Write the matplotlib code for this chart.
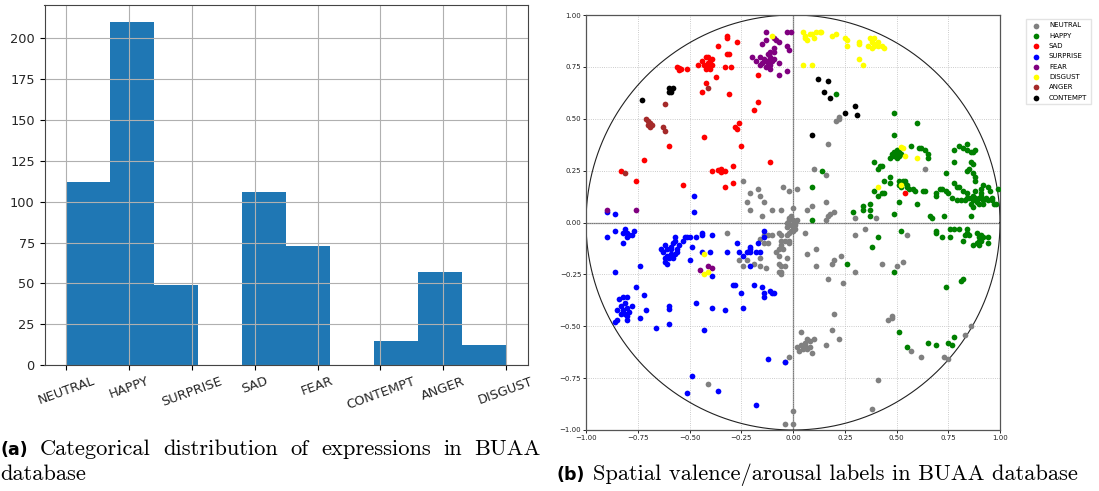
import numpy as np
import matplotlib
matplotlib.use('Agg')
from matplotlib import pyplot as plt

# (a) categorical distribution
categories = ['NEUTRAL', 'HAPPY', 'SURPRISE', 'SAD', 'FEAR', 'CONTEMPT', 'ANGER', 'DISGUST']
counts = [112, 210, 49, 106, 73, 15, 57, 12]

# (b) valence / arousal points, (valence, arousal)
neutral = [(0.21,0.49),(0.22,0.50),(0.22,0.51),(0.17,0.38),(0.10,0.26),(0.16,0.23),(0.64,0.26),
           (-0.24,0.20),(-0.17,0.16),(-0.16,0.13),(-0.21,0.14),(-0.22,0.10),(-0.21,0.06),(-0.14,0.10),
           (-0.15,0.03),(-0.10,0.06),(-0.06,0.06),(-0.05,0.17),(-0.02,0.15),(0.00,0.07),(0.02,0.16),
           (0.07,0.06),(0.09,0.08),(0.16,0.10),(0.16,0.01),(0.17,0.03),(0.18,0.04),(0.20,0.05),
           (0.30,0.02),(0.40,0.02),
           (-0.03,0.00),(-0.02,0.02),(-0.01,0.03),(0.00,0.01),(0.01,0.00),(0.01,-0.01),(-0.01,-0.01),
           (0.00,-0.02),(0.01,-0.03),(0.00,-0.04),(-0.01,-0.04),(-0.02,-0.05),(-0.03,-0.02),(0.02,0.01),
           (-0.02,0.01),
           (-0.32,-0.05),(-0.14,-0.06),(-0.12,-0.06),(-0.10,-0.06),(-0.07,-0.05),(-0.06,-0.06),(-0.03,-0.06),
           (-0.14,-0.10),(-0.12,-0.10),(-0.16,-0.08),(-0.06,-0.11),(-0.07,-0.13),(-0.08,-0.14),(-0.06,-0.09),
           (-0.04,-0.09),(-0.02,-0.09),(-0.02,-0.10),(-0.05,-0.13),(-0.07,-0.16),(-0.03,-0.17),
           (-0.07,-0.20),(-0.06,-0.21),(-0.06,-0.24),(-0.04,-0.21),(-0.07,-0.24),(-0.06,-0.25),
           (-0.26,-0.18),(-0.22,-0.18),(-0.24,-0.21),(-0.19,-0.20),(-0.16,-0.21),(-0.16,-0.17),(-0.13,-0.22),
           (0.06,-0.05),(0.07,-0.15),(0.11,-0.13),(0.11,-0.21),(0.19,-0.20),(0.20,-0.18),(0.23,-0.16),
           (0.17,-0.27),(0.24,-0.29),(0.30,-0.24),(0.30,-0.06),(0.35,-0.03),(0.43,-0.20),(0.50,-0.21),
           (0.53,-0.19),(0.55,-0.06),(0.20,-0.44),(0.46,-0.47),(0.48,-0.45),(0.48,-0.46),(0.04,-0.53),
           (0.02,-0.60),(0.04,-0.59),(0.05,-0.61),(0.05,-0.60),(0.06,-0.59),(0.07,-0.61),(0.08,-0.60),
           (0.08,-0.57),(0.10,-0.56),(0.09,-0.63),(0.03,-0.62),(0.06,-0.58),(0.07,-0.56),
           (0.16,-0.59),(0.19,-0.52),(0.22,-0.56),(0.57,-0.62),(0.62,-0.65),(0.73,-0.65),(0.75,-0.66),
           (0.83,-0.54),(0.86,-0.50),(0.41,-0.76),(0.38,-0.90),(-0.41,-0.78),(-0.02,-0.65),(-0.04,-0.67),
           (0.00,-0.91),(-0.04,-0.97),(0.00,-0.97)]
happy = [(0.21,0.62),(0.49,0.53),(0.60,0.48),(0.49,0.42),(0.39,0.29),(0.42,0.27),(0.41,0.26),(0.43,0.27),
         (0.14,0.25),(0.09,0.17),(0.09,0.01),
         (0.47,0.31),(0.49,0.34),(0.50,0.33),(0.51,0.32),(0.51,0.34),(0.49,0.32),(0.50,0.31),(0.52,0.33),
         (0.48,0.33),(0.50,0.35),(0.57,0.37),(0.61,0.36),(0.62,0.36),(0.64,0.35),(0.65,0.33),(0.65,0.31),
         (0.47,0.22),(0.44,0.20),(0.39,0.15),(0.41,0.13),(0.43,0.14),(0.44,0.14),
         (0.51,0.18),(0.51,0.20),(0.53,0.20),(0.54,0.19),(0.55,0.18),(0.54,0.20),(0.55,0.17),(0.56,0.16),
         (0.58,0.16),(0.59,0.15),(0.52,0.17),(0.47,0.19),
         (0.51,0.10),(0.49,0.04),(0.60,0.09),(0.63,0.15),(0.64,0.15),(0.66,0.03),(0.67,0.02),(0.69,0.14),
         (0.69,0.13),(0.73,0.03),(0.71,0.16),(0.72,0.16),(0.74,0.15),(0.75,0.14),(0.74,0.24),(0.78,0.29),
         (0.78,0.35),(0.80,0.37),(0.82,0.36),(0.84,0.38),(0.84,0.35),(0.86,0.34),(0.87,0.34),(0.88,0.35),
         (0.86,0.29),(0.87,0.28),(0.85,0.26),(0.84,0.25),(0.78,0.19),(0.79,0.17),(0.80,0.17),
         (0.82,0.15),(0.84,0.14),(0.87,0.13),(0.88,0.12),(0.90,0.12),(0.92,0.11),(0.93,0.12),(0.91,0.16),
         (0.92,0.18),(0.94,0.17),(0.95,0.15),(0.96,0.12),(0.96,0.11),(0.97,0.09),(0.91,0.13),(0.89,0.10),
         (0.87,0.11),(0.85,0.12),(0.84,0.12),(0.92,0.09),(0.94,0.11),(0.90,0.09),(0.91,0.14),(0.88,0.15),
         (0.87,0.24),(0.88,0.22),(0.88,0.20),(0.98,0.09),(0.99,0.16),(0.86,0.03),(0.77,0.12),(0.79,0.11),
         (0.81,0.11),(0.83,0.11),(0.87,0.075),(0.86,0.09),(0.29,0.05),(0.34,0.08),(0.34,0.06),(0.37,0.09),
         (0.37,0.06),(0.37,0.03),
         (0.52,-0.04),(0.41,-0.07),(0.38,-0.12),(0.26,-0.20),(0.49,-0.24),(0.69,-0.04),(0.69,-0.05),
         (0.72,-0.07),(0.76,-0.03),(0.78,-0.03),(0.80,-0.03),(0.76,-0.07),(0.82,-0.09),(0.84,-0.03),
         (0.84,-0.05),(0.85,-0.06),(0.83,-0.06),(0.87,-0.11),
         (0.89,-0.05),(0.90,-0.07),(0.91,-0.06),(0.92,-0.07),(0.94,-0.07),(0.90,-0.09),(0.89,-0.10),
         (0.91,-0.09),(0.90,-0.11),(0.94,-0.10),
         (0.74,-0.31),(0.81,-0.28),(0.82,-0.27),(0.51,-0.53),(0.55,-0.60),(0.65,-0.58),(0.69,-0.59),
         (0.75,-0.58),(0.77,-0.59),(0.78,-0.55)]
sad = [(-0.32,0.90),(-0.32,0.89),(-0.27,0.87),(-0.36,0.85),
       (-0.44,0.78),(-0.42,0.80),(-0.41,0.80),(-0.40,0.78),(-0.41,0.76),(-0.39,0.76),(-0.43,0.76),
       (-0.40,0.74),(-0.42,0.74),(-0.39,0.79),(-0.41,0.77),
       (-0.32,0.81),(-0.31,0.81),(-0.33,0.75),(-0.30,0.75),(-0.56,0.75),(-0.55,0.735),(-0.55,0.745),
       (-0.54,0.74),(-0.51,0.74),(-0.46,0.76),(-0.42,0.67),(-0.44,0.63),(-0.37,0.70),(-0.31,0.62),
       (-0.17,0.71),(-0.17,0.58),(-0.19,0.54),(-0.26,0.48),(-0.28,0.46),(-0.27,0.45),(-0.25,0.37),
       (-0.43,0.41),(-0.60,0.37),(-0.72,0.30),(-0.83,0.25),(-0.76,0.20),(-0.53,0.18),(-0.39,0.25),
       (-0.36,0.255),(-0.35,0.26),(-0.33,0.25),(-0.35,0.245),(-0.29,0.27),(-0.29,0.19),(-0.33,0.17),
       (-0.11,0.29),(0.54,0.14)]
surprise = [(-0.90,0.05),(-0.86,0.04),(-0.48,0.13),(-0.48,0.05),(-0.14,-0.04),
            (-0.90,-0.07),(-0.86,-0.04),(-0.82,-0.10),(-0.82,-0.05),(-0.81,-0.03),(-0.80,-0.05),
            (-0.79,-0.06),(-0.80,-0.07),(-0.78,-0.06),(-0.77,-0.04),(-0.86,-0.24),(-0.74,-0.21),
            (-0.76,-0.31),(-0.72,-0.35),(-0.71,-0.42),(-0.74,-0.46),
            (-0.84,-0.37),(-0.83,-0.40),(-0.82,-0.42),(-0.81,-0.44),(-0.80,-0.41),(-0.79,-0.43),
            (-0.81,-0.39),(-0.82,-0.36),(-0.80,-0.36),(-0.78,-0.40),(-0.85,-0.42),(-0.83,-0.44),
            (-0.80,-0.45),(-0.85,-0.47),(-0.80,-0.47),(-0.86,-0.48),
            (-0.66,-0.51),(-0.60,-0.40),(-0.60,-0.415),(-0.60,-0.49),
            (-0.64,-0.13),(-0.63,-0.14),(-0.62,-0.17),(-0.62,-0.19),(-0.61,-0.20),(-0.61,-0.16),
            (-0.60,-0.17),(-0.59,-0.15),(-0.59,-0.13),(-0.58,-0.17),(-0.57,-0.15),(-0.56,-0.14),
            (-0.58,-0.10),(-0.57,-0.09),(-0.57,-0.07),(-0.56,-0.13),(-0.55,-0.11),(-0.53,-0.09),
            (-0.52,-0.07),(-0.61,-0.13),(-0.62,-0.11),(-0.59,-0.12),
            (-0.50,-0.18),(-0.49,-0.12),(-0.51,-0.07),(-0.50,-0.07),(-0.47,-0.07),(-0.44,-0.05),
            (-0.44,-0.06),(-0.44,-0.14),(-0.40,-0.14),(-0.39,-0.06),
            (-0.43,-0.52),(-0.47,-0.39),(-0.39,-0.41),(-0.39,-0.26),(-0.33,-0.42),(-0.32,-0.14),
            (-0.29,-0.30),(-0.28,-0.30),(-0.27,-0.10),(-0.26,-0.14),(-0.24,-0.16),(-0.25,-0.34),
            (-0.24,-0.41),(-0.22,-0.14),(-0.21,-0.13),(-0.21,-0.12),(-0.21,-0.14),(-0.21,-0.21),
            (-0.19,-0.30),(-0.17,-0.10),(-0.16,-0.14),(-0.18,-0.14),(-0.15,-0.31),(-0.14,-0.34),
            (-0.14,-0.36),(-0.11,-0.33),(-0.10,-0.34),(-0.09,-0.34),(-0.14,-0.07),(-0.12,-0.66),
            (-0.04,-0.67),(-0.49,-0.74),(-0.51,-0.82),(-0.36,-0.81),(-0.18,-0.88)]
fear = [(-0.90,0.06),(-0.76,0.06),(-0.20,0.80),(-0.18,0.78),(-0.16,0.80),(-0.15,0.86),(-0.13,0.88),
        (-0.13,0.92),(-0.09,0.89),(-0.08,0.88),(-0.07,0.87),(-0.09,0.84),(-0.09,0.82),
        (-0.14,0.79),(-0.13,0.78),(-0.12,0.77),(-0.11,0.76),(-0.11,0.78),(-0.12,0.81),(-0.11,0.80),
        (-0.15,0.77),(-0.16,0.76),(-0.13,0.75),(-0.11,0.74),(-0.10,0.78),(-0.09,0.79),(-0.11,0.82),
        (-0.12,0.78),
        (-0.07,0.77),(-0.07,0.71),(-0.03,0.73),(-0.03,0.92),(-0.01,0.92),(-0.03,0.85),(-0.02,0.83),
        (-0.45,-0.23),(-0.41,-0.21),(-0.39,-0.22)]
disgust = [(-0.10,0.90),(0.05,0.92),(0.06,0.90),(0.07,0.88),(0.06,0.89),(0.08,0.91),(0.10,0.89),
           (0.11,0.92),(0.13,0.92),(0.135,0.92),(0.09,0.91),(0.05,0.76),(0.09,0.76),(0.19,0.90),
           (0.21,0.91),(0.25,0.89),(0.26,0.88),(0.26,0.85),(0.32,0.87),(0.32,0.86),(0.32,0.79),
           (0.34,0.76),(0.37,0.89),(0.38,0.87),(0.38,0.88),(0.40,0.86),(0.41,0.87),(0.36,0.85),
           (0.38,0.84),(0.39,0.85),(0.41,0.85),(0.43,0.85),(0.44,0.84),(0.39,0.89),
           (0.52,0.365),(0.53,0.36),(0.54,0.32),(0.60,0.31),(0.41,0.17),(0.52,0.18),
           (-0.43,-0.15),(-0.43,-0.25),(-0.41,-0.24)]
anger = [(-0.71,0.50),(-0.70,0.49),(-0.69,0.48),(-0.68,0.47),(-0.70,0.47),(-0.69,0.46),(-0.63,0.46),
         (-0.62,0.44),(-0.62,0.57),(-0.81,0.24),(-0.41,0.65)]
contempt = [(-0.73,0.59),(-0.60,0.65),(-0.59,0.64),(-0.58,0.65),(-0.59,0.63),(-0.60,0.63),(0.12,0.69),
            (0.17,0.68),(0.15,0.63),(0.18,0.60),(0.25,0.53),(0.30,0.56),(0.31,0.52),(0.09,0.42)]

va_labels = ['NEUTRAL', 'HAPPY', 'SAD', 'SURPRISE', 'FEAR', 'DISGUST', 'ANGER', 'CONTEMPT']
va_points = [neutral, happy, sad, surprise, fear, disgust, anger, contempt]
va_colors = ['gray', 'green', 'red', 'blue', 'purple', 'yellow', 'brown', 'black']

W, H = 1099, 491
fig = plt.figure(figsize=(W/100, H/100), dpi=100)

# ---- left: histogram of category codes
ax1 = fig.add_axes([44.5/W, 1-365/H, (528-44.5)/W, (365-5)/H])
codes = np.repeat(np.arange(len(categories)), counts)
ax1.hist(codes, bins=10, color='#1f77b4')
ax1.grid(True, color='#b0b0b0', lw=0.8)
ax1.set_axisbelow(False)
ax1.set_xticks(np.arange(len(categories)))
ax1.set_xticklabels(categories, rotation=20, fontsize=9.3, color='#262626')
ax1.set_yticks(np.arange(0, 201, 25))
ax1.tick_params(axis='y', labelsize=9.3, labelcolor='#262626')
for s in ax1.spines.values():
    s.set_color('#444444')
    s.set_zorder(5)

# ---- right: valence / arousal scatter
ax2 = fig.add_axes([586/W, 1-430/H, 414/W, 415/H])
for pts, lab, col in zip(va_points, va_labels, va_colors):
    p = np.array(pts)
    ax2.scatter(p[:, 0], p[:, 1], s=17, c=col, label=lab, linewidths=0, zorder=3)
t = np.linspace(0, 2*np.pi, 400)
ax2.plot(np.cos(t), np.sin(t), color='#222222', lw=0.8, zorder=2)
ax2.axhline(0, color='#777777', lw=0.9, zorder=1)
ax2.axvline(0, color='#777777', lw=0.9, zorder=1)
ax2.set_xlim(-1, 1)
ax2.set_ylim(-1, 1)
ticks = np.arange(-1, 1.01, 0.25)
ax2.set_xticks(ticks)
ax2.set_yticks(ticks)
ax2.xaxis.set_major_formatter('{x:.2f}')
ax2.yaxis.set_major_formatter('{x:.2f}')
ax2.tick_params(labelsize=5, length=2, width=0.6, pad=1.5, labelcolor='#222222')
ax2.grid(True, ls=':', color='#bbbbbb', lw=0.6, zorder=0)
for s in ax2.spines.values():
    s.set_color('#555555')
    s.set_linewidth(0.9)
fig.legend(*ax2.get_legend_handles_labels(), loc='upper left',
           bbox_to_anchor=(1026/W, 1-19/H), borderaxespad=0, fontsize=5,
           markerscale=1.0, handletextpad=0.8, labelspacing=0.62,
           borderpad=0.5, fancybox=False, edgecolor='#dddddd')

# ---- captions
renderer = fig.canvas.get_renderer()
serif = ['cmr10', 'DejaVu Serif']
probe = fig.text(0, 0, 'Spatial valence/arousal labels in BUAA database', fontsize=10, family=serif)
pw = probe.get_window_extent(renderer).width
probe.remove()
bold_b = fig.text(556/W, 1-480/H, '(b)', fontsize=12.5, weight='bold', family='DejaVu Sans')
bw = bold_b.get_window_extent(renderer).width
cap_size = 10 * (1078 - 556 - bw - 9) / pw
fig.text((556 + bw + 9)/W, 1-480/H, 'Spatial valence/arousal labels in BUAA database',
         fontsize=cap_size, family=serif)

# justified first line of caption (a)
words = ['Categorical', 'distribution', 'of', 'expressions', 'in', 'BUAA']
items = [fig.text(0, 1-455/H, '(a)', fontsize=12.5, weight='bold', family='DejaVu Sans')]
items += [fig.text(0, 1-455/H, w, fontsize=cap_size, family=serif) for w in words]
widths = [it.get_window_extent(renderer).width for it in items]
gap = (541 - sum(widths)) / (len(items) - 1)
x = 0.0
for it, w in zip(items, widths):
    it.set_x(x/W)
    x += w + gap
fig.text(0, 1-480/H, 'database', fontsize=cap_size, family=serif)

fig.savefig('out.png', dpi=100)
